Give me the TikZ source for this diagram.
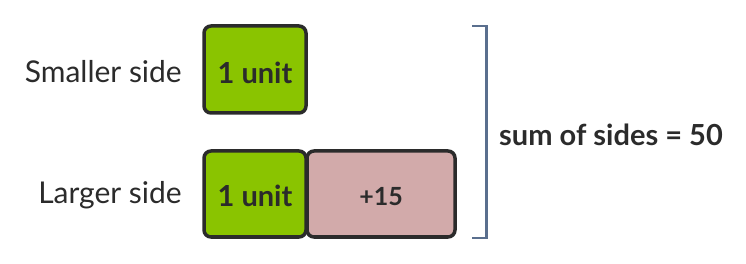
\documentclass[tikz,border=0pt]{standalone}
\usepackage{fontspec}
\setmainfont{Lato}
\definecolor{boxgreen}{HTML}{8AC400}
\definecolor{boxpink}{HTML}{D2AAAA}
\definecolor{edge}{HTML}{2B2B2B}
\definecolor{brack}{HTML}{5A6F8E}
\definecolor{txt}{HTML}{2B2B2B}
\begin{document}
\begin{tikzpicture}[x=1pt,y=-1pt,
  unitbox/.style={draw=edge,line width=3.5pt,rounded corners=7pt,inner sep=0pt},
  lbl/.style={font=\fontsize{30}{34}\selectfont,text=txt,anchor=east,inner sep=0pt},
  boxtxt/.style={font=\fontsize{29}{33}\selectfont\bfseries,text=txt}]
\useasboundingbox (0,0) rectangle (746,264);
\draw[unitbox,fill=boxgreen] (204,26) rectangle (306,113);
\node[boxtxt] (u1) at (255,73) {1 unit};
\draw[unitbox,fill=boxpink] (307,151) rectangle (455,237);
\draw[unitbox,fill=boxgreen] (204,151) rectangle (306,237);
\node[boxtxt] (u2) at (255,196) {1 unit};
\node[boxtxt,font=\fontsize{25}{30}\selectfont\bfseries] (p15) at (381,197) {+15};
\node[lbl] (sm) at (182,72) {Smaller side};
\node[lbl] (lg) at (182,195) {Larger side};
\coordinate (bt) at (472,26);
\coordinate (bb) at (472,238);
\draw[brack,line width=2.5pt] (bt) -| (486.5,238) -- (bb);
\node[boxtxt,anchor=west,inner sep=0pt] (sum) at (499,135) {sum of sides = 50};
\end{tikzpicture}
\end{document}
